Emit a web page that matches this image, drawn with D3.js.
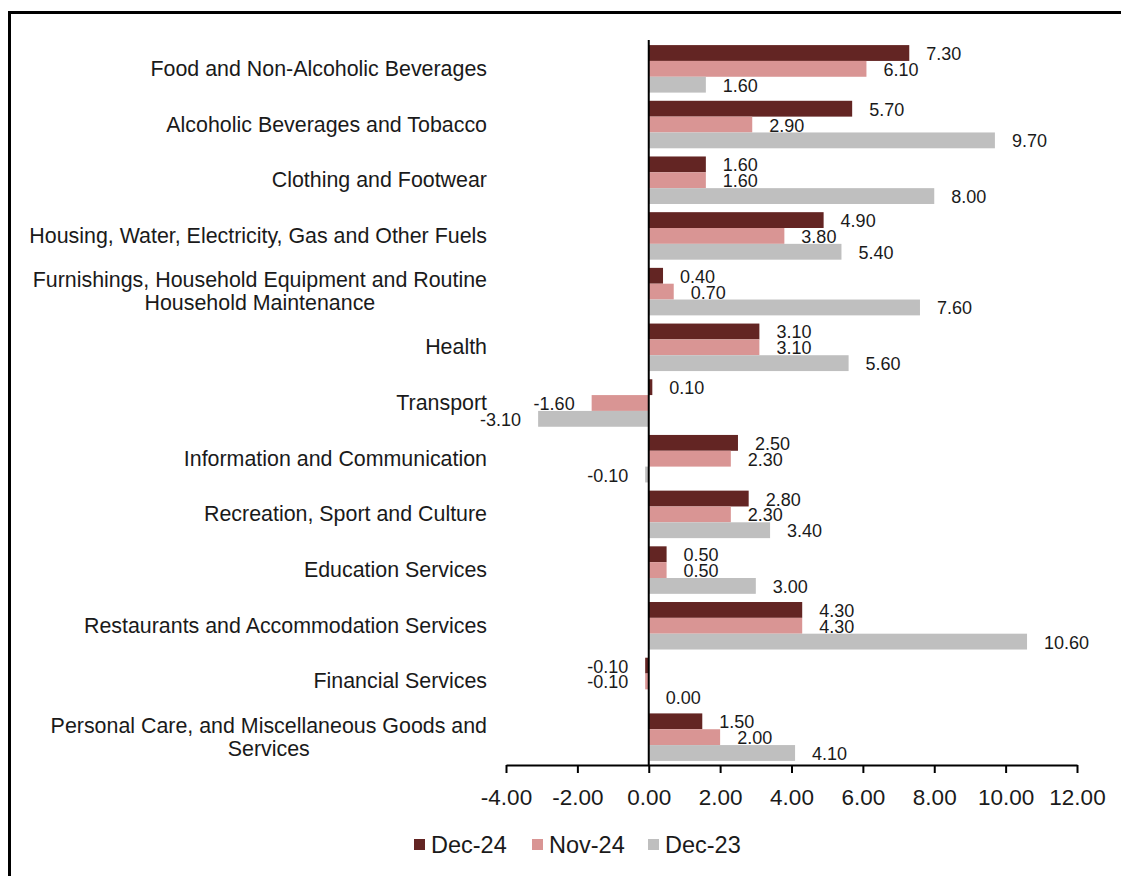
<!DOCTYPE html>
<html>
<head>
<meta charset="utf-8">
<script src="https://cdn.jsdelivr.net/npm/d3@7"></script>
<style>
  html, body { margin: 0; padding: 0; background: #fff; }
  svg { display: block; }
  text { font-family: "Liberation Sans", Arial, sans-serif; fill: #1a1a1a; }
</style>
</head>
<body>
<svg id="chart" width="1121" height="876"></svg>
<script>
const categories = [
  ["Food and Non-Alcoholic Beverages"],
  ["Alcoholic Beverages and Tobacco"],
  ["Clothing and Footwear"],
  ["Housing, Water, Electricity, Gas and Other Fuels"],
  ["Furnishings, Household Equipment and Routine", "Household Maintenance"],
  ["Health"],
  ["Transport"],
  ["Information and Communication"],
  ["Recreation, Sport and Culture"],
  ["Education Services"],
  ["Restaurants and Accommodation Services"],
  ["Financial Services"],
  ["Personal Care, and Miscellaneous Goods and", "Services"]
];
const seriesNames = ["Dec-24", "Nov-24", "Dec-23"];
const dec24 = [7.30, 5.70, 1.60, 4.90, 0.40, 3.10, 0.10, 2.50, 2.80, 0.50, 4.30, -0.10, 1.50];
const nov24 = [6.10, 2.90, 1.60, 3.80, 0.70, 3.10, -1.60, 2.30, 2.30, 0.50, 4.30, -0.10, 2.00];
const dec23 = [1.60, 9.70, 8.00, 5.40, 7.60, 5.60, -3.10, -0.10, 3.40, 3.00, 10.60, 0.00, 4.10];
const xTicks = [-4, -2, 0, 2, 4, 6, 8, 10, 12];
const colors = ["#632523", "#D99594", "#BFBFBF"];

const seriesValues = [dec24, nov24, dec23];
const svg = d3.select("#chart");

// frame
svg.append("line").attr("x1", 9.5).attr("x2", 9.5).attr("y1", 11).attr("y2", 880)
  .attr("stroke", "#000").attr("stroke-width", 3);
svg.append("line").attr("x1", 8).attr("x2", 1125).attr("y1", 12.5).attr("y2", 12.5)
  .attr("stroke", "#000").attr("stroke-width", 3);

const catKeys = categories.map(c => c.join(" "));
const x = d3.scaleLinear().domain([-4, 12]).range([506, 1077]);
const y = d3.scaleBand().domain(catKeys).range([41, 765]).paddingInner(0.147).paddingOuter(0.0735);
const ySub = d3.scaleBand().domain(seriesNames).range([0, y.bandwidth()]);

// bars
seriesNames.forEach((name, si) => {
  const vals = seriesValues[si];
  const g = svg.append("g");
  g.selectAll("rect").data(vals).join("rect")
    .attr("x", d => x(Math.min(0, d)))
    .attr("width", d => Math.abs(x(d) - x(0)))
    .attr("y", (d, i) => y(catKeys[i]) + ySub(name))
    .attr("height", ySub.bandwidth())
    .attr("fill", colors[si]);
  g.selectAll("text").data(vals).join("text")
    .attr("x", d => d < 0 ? x(d) - 17 : x(d) + 17)
    .attr("y", (d, i) => y(catKeys[i]) + ySub(name) + ySub.bandwidth() / 2 + 1)
    .attr("text-anchor", d => d < 0 ? "end" : "start")
    .attr("dominant-baseline", "central")
    .attr("font-size", 18)
    .text(d => d.toFixed(2));
});

// zero line
svg.append("line").attr("x1", x(0)).attr("x2", x(0)).attr("y1", 40).attr("y2", 765)
  .attr("stroke", "#000").attr("stroke-width", 2);

// x axis
const axisG = svg.append("g").attr("transform", "translate(0,765)")
  .call(d3.axisBottom(x).tickValues(xTicks).tickSize(8).tickSizeOuter(0).tickFormat(d => d.toFixed(2)));
axisG.select(".domain").attr("stroke", "#000").attr("stroke-width", 2);
axisG.selectAll(".tick line").attr("stroke", "#000").attr("stroke-width", 2);
axisG.selectAll(".tick text").attr("font-size", 22.5).attr("font-family", "\"Liberation Sans\", Arial, sans-serif")
  .attr("fill", "#1a1a1a").attr("y", 0).attr("dy", null).attr("dominant-baseline", "central")
  .attr("transform", "translate(0,32)");

// category labels
const labelRight = 487;
const lineH = 23;
categories.forEach((lines, i) => {
  const cy = y(catKeys[i]) + y.bandwidth() / 2;
  const t = svg.append("text").attr("font-size", 21.4).attr("text-anchor", "middle");
  const spans = lines.map((ln, j) => t.append("tspan")
    .attr("y", cy + (j - (lines.length - 1) / 2) * lineH)
    .attr("dominant-baseline", "central")
    .text(ln));
  let maxW = 0;
  spans.forEach(s => { maxW = Math.max(maxW, s.node().getComputedTextLength()); });
  spans.forEach(s => s.attr("x", labelRight - maxW / 2));
});

// legend
const legendX = [414, 532, 648];
const legend = svg.append("g");
seriesNames.forEach((name, i) => {
  legend.append("rect").attr("x", legendX[i]).attr("y", 839).attr("width", 11).attr("height", 11)
    .attr("fill", colors[i]);
  legend.append("text").attr("x", legendX[i] + 17).attr("y", 845)
    .attr("dominant-baseline", "central").attr("font-size", 23.5).text(name);
});
</script>
</body>
</html>
